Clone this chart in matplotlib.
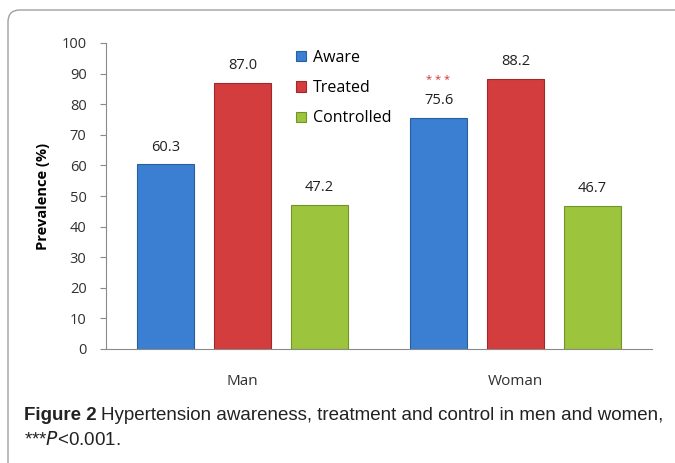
import numpy as np
import matplotlib
matplotlib.use("Agg")
import matplotlib.pyplot as plt
from matplotlib.patches import FancyBboxPatch
from matplotlib.transforms import IdentityTransform

# Data
groups = ["Man", "Woman"]
series = ["Aware", "Treated", "Controlled"]
aware = [60.3, 75.6]
treated = [87.0, 88.2]
controlled = [47.2, 46.7]
yticks = [0, 10, 20, 30, 40, 50, 60, 70, 80, 90, 100]

colors = ["#3a7fd2", "#d43d3d", "#9cc43c"]
edges = ["#2a5f9e", "#9e2a2a", "#72922a"]

plt.rcParams["font.family"] = ["Open Sans", "DejaVu Sans"]

W, H = 675, 463
fig = plt.figure(figsize=(W / 100, H / 100), dpi=100)

# rounded frame around the figure (runs off the right and bottom edges)
frame = FancyBboxPatch((8, -40), 720, H - 10 + 40,
                       boxstyle="round,pad=0,rounding_size=12",
                       transform=IdentityTransform(), facecolor="none",
                       edgecolor="#a0a0a0", linewidth=1.0, zorder=-1)
fig.patches.append(frame)

ax = fig.add_axes([106 / W, 1 - 349 / H, 546 / W, 306 / H])
ax.set_facecolor("none")

x = np.arange(len(groups))
offset = 0.282
width = 0.209
values = [aware, treated, controlled]
for i, (name, vals) in enumerate(zip(series, values)):
    pos = x + (i - 1) * offset
    bars = ax.bar(pos, vals, width, color=colors[i], edgecolor=edges[i],
                  linewidth=0.8, label=name)
    for b, v in zip(bars, vals):
        ax.text(b.get_x() + b.get_width() / 2, v + 3.2, f"{v:.1f}",
                ha="center", va="bottom", fontsize=10.5, color="#202020")

# significance marker above women's awareness
ax.text(x[1] - offset, aware[1] + 10.5, "* * *", ha="center", va="bottom",
        fontsize=8, color="#d03030")

ax.set_xlim(-0.5, 1.5)
ax.set_ylim(0, 100)
ax.set_yticks(yticks)
ax.set_xticks(x)
ax.set_xticklabels(groups, fontsize=11, color="#303030")
ax.tick_params(axis="x", length=0, pad=18)
ax.tick_params(axis="y", labelsize=10.5, colors="#8a8a8a", length=4,
               direction="out", pad=10)
for t in ax.get_yticklabels():
    t.set_color("#303030")
for s in ["top", "right"]:
    ax.spines[s].set_visible(False)
ax.spines["left"].set_color("#8a8a8a")
ax.spines["bottom"].set_color("#8a8a8a")
ax.set_ylabel("Prevalence (%)", fontsize=10.5, fontweight="bold", labelpad=8)

ax.legend(loc="upper left", bbox_to_anchor=(0.322, 1.025), frameon=False,
          fontsize=11.5, handlelength=0.6, handleheight=0.6,
          labelspacing=0.9, handletextpad=0.45)

# caption
cap_size = 13.5
cap = fig.text(24 / W, 1 - 415 / H, "Figure 2", fontsize=cap_size,
               family="Liberation Sans", fontweight="bold", va="center",
               ha="left", color="#222222")
fig.canvas.draw()
bb = cap.get_window_extent()
fig.text((bb.x1 + 4) / W, 1 - 415 / H,
         "Hypertension awareness, treatment and control in men and women,",
         fontsize=cap_size, family="Liberation Sans", va="center", ha="left",
         color="#222222")
fig.text(24 / W, 1 - 440 / H, r"***$\it{P}$<0.001.", fontsize=cap_size,
         family="Liberation Sans", va="center", ha="left", color="#222222")

fig.savefig("out.png", dpi=100)
